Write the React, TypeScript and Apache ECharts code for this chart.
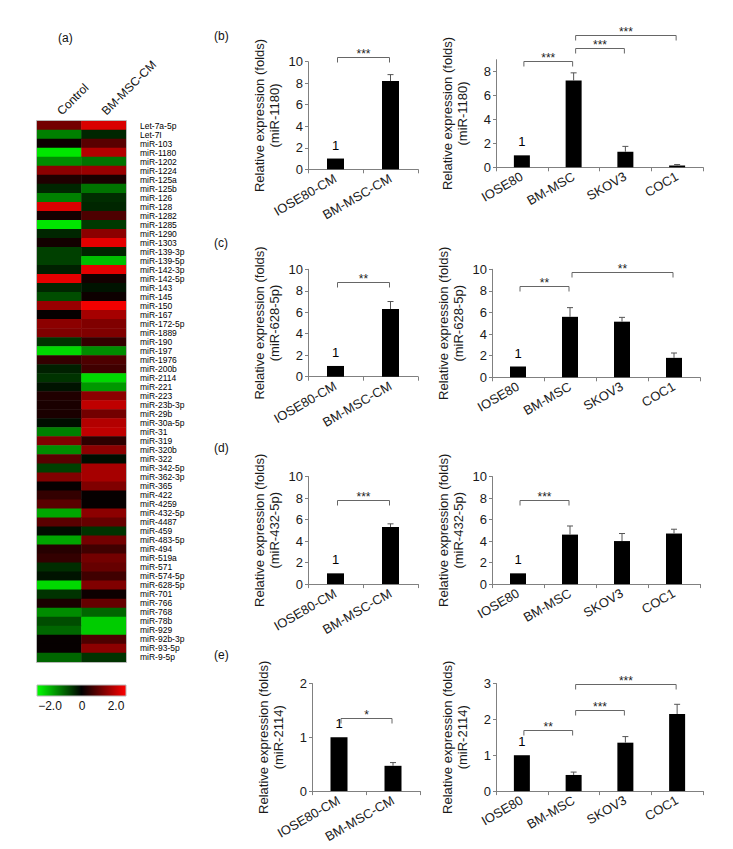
import React, { useEffect, useRef } from 'react';
import * as echarts from 'echarts';

// ---------- Heatmap data (a) ----------
const heatCols = ['Control', 'BM-MSC-CM'];
const heatRows = [
  'Let-7a-5p', 'Let-7I', 'miR-103', 'miR-1180', 'miR-1202', 'miR-1224', 'miR-125a', 'miR-125b',
  'miR-126', 'miR-128', 'miR-1282', 'miR-1285', 'miR-1290', 'miR-1303', 'miR-139-3p', 'miR-139-5p',
  'miR-142-3p', 'miR-142-5p', 'miR-143', 'miR-145', 'miR-150', 'miR-167', 'miR-172-5p', 'miR-1889',
  'miR-190', 'miR-197', 'miR-1976', 'miR-200b', 'miR-2114', 'miR-221', 'miR-223', 'miR-23b-3p',
  'miR-29b', 'miR-30a-5p', 'miR-31', 'miR-319', 'miR-320b', 'miR-322', 'miR-342-5p', 'miR-362-3p',
  'miR-365', 'miR-422', 'miR-4259', 'miR-432-5p', 'miR-4487', 'miR-459', 'miR-483-5p', 'miR-494',
  'miR-519a', 'miR-571', 'miR-574-5p', 'miR-628-5p', 'miR-701', 'miR-766', 'miR-768', 'miR-78b',
  'miR-929', 'miR-92b-3p', 'miR-93-5p', 'miR-9-5p',
];
const controlVals = [
  0.9, -1.0, 0.1, -1.8, -1.1, 1.1, 0.25, -0.3,
  -1.0, 1.7, 0.15, -1.8, -0.3, 0.15, -0.5, -0.5,
  -0.25, 1.8, -0.3, -0.6, 1.2, 0.05, 1.1, 1.0,
  -0.4, -1.7, 0.4, -0.25, -0.4, -0.15, 0.25, 0.2,
  0.2, -0.1, -1.0, 1.0, -1.1, 0.7, -0.5, 1.0,
  0.05, 0.4, 0.7, -1.3, 0.7, -0.1, -1.3, 0.3,
  0.4, -0.35, -0.15, -1.7, -0.4, 0.2, -1.1, -0.6,
  -0.8, 0.05, 0.05, -0.8,
];
const bmVals = [
  1.7, -0.3, 0.7, 1.4, -0.9, 1.2, 0.2, -0.9,
  -0.35, -0.3, 0.6, -0.45, 1.1, 1.8, -0.3, -1.5,
  1.8, 0.15, -0.15, 0.1, 1.9, 1.3, 1.0, 1.0,
  0.4, -1.1, 0.6, 0.5, -1.7, -1.2, 1.1, 1.5,
  0.9, 1.4, 1.5, 0.35, 1.1, -0.1, 1.3, 1.3,
  1.0, 0.05, 0.05, 1.1, 0.8, -0.4, 0.9, 0.5,
  0.9, 0.8, 0.5, 1.0, 0.1, 0.8, -0.8, -1.6,
  -1.6, 0.6, 1.1, -0.4,
];
const colorbarTicks = ['−2.0', '0', '2.0'];

// ---------- Bar chart data (b)-(e) ----------
const cmCats = ['IOSE80-CM', 'BM-MSC-CM'];
const cellCats = ['IOSE80', 'BM-MSC', 'SKOV3', 'COC1'];

const bLeftVals = [1, 8.2];
const bLeftErr = [0, 0.6];
const bLeftSig = [[0, 1, 10.45, '***']];
const bRightVals = [1, 7.25, 1.3, 0.15];
const bRightErr = [0, 0.65, 0.45, 0.08];
const bRightSig = [[0, 1, 8.85, '***'], [1, 2, 9.95, '***'], [1, 3, 11.1, '***']];

const cLeftVals = [1, 6.3];
const cLeftErr = [0, 0.7];
const cLeftSig = [[0, 1, 8.8, '**']];
const cRightVals = [1, 5.6, 5.15, 1.8];
const cRightErr = [0, 0.85, 0.4, 0.45];
const cRightSig = [[0, 1, 8.45, '**'], [1, 3, 9.75, '**']];

const dLeftVals = [1, 5.3];
const dLeftErr = [0, 0.3];
const dLeftSig = [[0, 1, 7.8, '***']];
const dRightVals = [1, 4.6, 4.0, 4.7];
const dRightErr = [0, 0.8, 0.7, 0.4];
const dRightSig = [[0, 1, 7.8, '***']];

const eLeftVals = [1, 0.47];
const eLeftErr = [0, 0.06];
const eLeftSig = [[0, 1, 1.35, '*']];
const eRightVals = [1, 0.45, 1.35, 2.15];
const eRightErr = [0, 0.08, 0.17, 0.27];
const eRightSig = [[0, 1, 1.7, '**'], [1, 2, 2.25, '***'], [1, 3, 3.0, '***']];

const yTitle = 'Relative expression (folds)';
const panelMirs = ['(miR-1180)', '(miR-628-5p)', '(miR-432-5p)', '(miR-2114)'];
const panelLetters = ['(a)', '(b)', '(c)', '(d)', '(e)'];

const FONT = '"Liberation Sans", Arial, Helvetica, sans-serif';

const panels = [
  { cats: cmCats, vals: bLeftVals, err: bLeftErr, sig: bLeftSig, mir: panelMirs[0], max: 10, interval: 2, left: 308, top: 61.7, width: 110, height: 107.6, barWidth: 17 },
  { cats: cellCats, vals: bRightVals, err: bRightErr, sig: bRightSig, mir: panelMirs[0], max: 9, interval: 2, left: 496, top: 59.7, width: 207, height: 107.6, barWidth: 16 },
  { cats: cmCats, vals: cLeftVals, err: cLeftErr, sig: cLeftSig, mir: panelMirs[1], max: 10, interval: 2, left: 308, top: 269.3, width: 110, height: 107.4, barWidth: 17 },
  { cats: cellCats, vals: cRightVals, err: cRightErr, sig: cRightSig, mir: panelMirs[1], max: 10, interval: 2, left: 492, top: 269.3, width: 208, height: 108, barWidth: 16 },
  { cats: cmCats, vals: dLeftVals, err: dLeftErr, sig: dLeftSig, mir: panelMirs[2], max: 10, interval: 2, left: 308, top: 476.5, width: 110, height: 107.6, barWidth: 17 },
  { cats: cellCats, vals: dRightVals, err: dRightErr, sig: dRightSig, mir: panelMirs[2], max: 10, interval: 2, left: 492, top: 476.5, width: 208, height: 107.6, barWidth: 16 },
  { cats: cmCats, vals: eLeftVals, err: eLeftErr, sig: eLeftSig, mir: panelMirs[3], max: 2, interval: 1, left: 312, top: 683.5, width: 108, height: 107.6, barWidth: 17 },
  { cats: cellCats, vals: eRightVals, err: eRightErr, sig: eRightSig, mir: panelMirs[3], max: 3, interval: 1, left: 496, top: 683.5, width: 207, height: 107.6, barWidth: 16 },
];

function buildOption() {
  const grid: any[] = [{ left: 37, top: 121, width: 89, height: 541 }];
  const xAxis: any[] = [{
    gridIndex: 0, type: 'category', data: heatCols, position: 'top',
    axisLine: { show: false }, axisTick: { show: false },
    axisLabel: { rotate: -45, align: 'left', verticalAlign: 'middle', fontSize: 12, margin: 8, color: '#111', fontFamily: FONT, interval: 0 },
  }];
  const yAxis: any[] = [{
    gridIndex: 0, type: 'category', data: heatRows, inverse: true, position: 'right',
    axisLine: { show: false }, axisTick: { show: false },
    axisLabel: { fontSize: 8.5, margin: 14, color: '#000', fontFamily: FONT, interval: 0, lineHeight: 9 },
  }];
  const heatData: number[][] = [];
  heatRows.forEach((_, r) => {
    heatData.push([0, r, controlVals[r]]);
    heatData.push([1, r, bmVals[r]]);
  });
  const series: any[] = [{
    type: 'heatmap', xAxisIndex: 0, yAxisIndex: 0, data: heatData,
    itemStyle: { borderWidth: 0 }, emphasis: { disabled: true },
  }];

  panels.forEach((p, k) => {
    const gi = k + 1;
    grid.push({ left: p.left, top: p.top, width: p.width, height: p.height });
    xAxis.push({
      gridIndex: gi, type: 'category', data: p.cats,
      axisLine: { lineStyle: { color: '#808080', width: 1 } },
      axisTick: { show: true, length: 4, lineStyle: { color: '#808080' } },
      axisLabel: { rotate: 30, fontSize: 13, margin: 8, color: '#1a1a1a', fontFamily: FONT, interval: 0 },
    });
    yAxis.push({
      gridIndex: gi, type: 'value', min: 0, max: p.max, interval: p.interval,
      axisLine: { show: true, lineStyle: { color: '#808080', width: 1 } },
      axisTick: { show: true, length: 3, lineStyle: { color: '#808080' } },
      splitLine: { show: false },
      axisLabel: { fontSize: 13, margin: 5, color: '#1a1a1a', fontFamily: FONT, showMaxLabel: p.max % p.interval === 0 },
      name: yTitle + '\n' + p.mir, nameLocation: 'middle', nameRotate: 90, nameGap: 26,
      nameTextStyle: { fontSize: 13, lineHeight: 15, color: '#1a1a1a', fontFamily: FONT },
    });
    series.push({
      type: 'bar', xAxisIndex: gi, yAxisIndex: gi, barWidth: p.barWidth,
      itemStyle: { color: '#000' },
      data: p.vals.map((v, i) => i === 0
        ? { value: v, label: { show: true, position: 'top', distance: 7, formatter: '{c}', fontSize: 13, color: '#000', fontFamily: FONT } }
        : v),
      z: 2,
    });
    const errData = p.vals.map((v, i) => [i, v, p.err[i]]).filter((d) => d[2] > 0);
    series.push({
      type: 'custom', xAxisIndex: gi, yAxisIndex: gi, clip: false, z: 3,
      data: errData,
      renderItem: (params: any, api: any) => {
        const i = api.value(0);
        const v = api.value(1);
        const e = api.value(2);
        const b = api.coord([i, v]);
        const t = api.coord([i, v + e]);
        return {
          type: 'group',
          children: [
            { type: 'line', shape: { x1: b[0], y1: b[1], x2: t[0], y2: t[1] }, style: { stroke: '#555', lineWidth: 1 } },
            { type: 'line', shape: { x1: t[0] - 3, y1: t[1], x2: t[0] + 3, y2: t[1] }, style: { stroke: '#555', lineWidth: 1 } },
          ],
        };
      },
    });
    const sig = p.sig;
    series.push({
      type: 'custom', xAxisIndex: gi, yAxisIndex: gi, clip: false, z: 3,
      data: sig.map((s) => [s[0], s[1], s[2]]),
      renderItem: (params: any, api: any) => {
        const s = sig[params.dataIndex];
        const a = api.coord([api.value(0), api.value(2)]);
        const b = api.coord([api.value(1), api.value(2)]);
        const x1 = a[0] + 2;
        const x2 = b[0] - 1;
        const y = Math.round(a[1]) + 0.5;
        return {
          type: 'group',
          children: [
            { type: 'polyline', shape: { points: [[x1, y + 5], [x1, y], [x2, y], [x2, y + 5]] }, style: { stroke: '#666', lineWidth: 1, fill: 'none' } },
            { type: 'text', x: (x1 + x2) / 2, y: y - 4, style: { text: s[3], fill: '#222', fontSize: 12, fontFamily: FONT, align: 'center', verticalAlign: 'middle' } },
          ],
        };
      },
    });
  });

  const letterPos = [[58, 38], [214, 36], [214, 243], [214, 448], [214, 655]];
  const graphic: any[] = panelLetters.map((t, i) => ({
    type: 'text', x: letterPos[i][0], y: letterPos[i][1],
    style: { text: t, fontSize: 12, fontFamily: FONT, fill: '#111', align: 'left', verticalAlign: 'middle' },
  }));
  graphic.push({
    type: 'rect', shape: { x: 36.5, y: 120.5, width: 90, height: 542 },
    style: { fill: 'none', stroke: '#b8b8b8', lineWidth: 1 }, z: 10,
  });
  graphic.push({
    type: 'rect', shape: { x: 37, y: 685, width: 89, height: 11 },
    style: {
      fill: new echarts.graphic.LinearGradient(0, 0, 1, 0, [
        { offset: 0, color: '#00ff00' }, { offset: 0.5, color: '#000000' }, { offset: 1, color: '#ff0000' },
      ]),
      stroke: '#b8b8b8', lineWidth: 1,
    },
  });
  const cbX = [50, 82, 116];
  colorbarTicks.forEach((t, i) => {
    graphic.push({
      type: 'text', x: cbX[i], y: 706,
      style: { text: t, fontSize: 12, fontFamily: FONT, fill: '#111', align: 'center', verticalAlign: 'middle' },
    });
  });

  return {
    animation: false,
    backgroundColor: '#ffffff',
    textStyle: { fontFamily: FONT },
    grid, xAxis, yAxis, series, graphic,
    visualMap: {
      show: false, type: 'continuous', min: -2, max: 2, seriesIndex: 0, dimension: 2,
      inRange: { color: ['#00ff00', '#000000', '#ff0000'] },
    },
  };
}

export default function App() {
  const ref = useRef<HTMLDivElement>(null);
  useEffect(() => {
    if (!ref.current) return;
    const chart = echarts.init(ref.current, null, { renderer: 'svg' });
    chart.setOption(buildOption() as any);
    return () => chart.dispose();
  }, []);
  return (
    <div
      ref={ref}
      style={{ position: 'fixed', left: 0, top: 0, width: 733, height: 849, background: '#fff' }}
    />
  );
}
